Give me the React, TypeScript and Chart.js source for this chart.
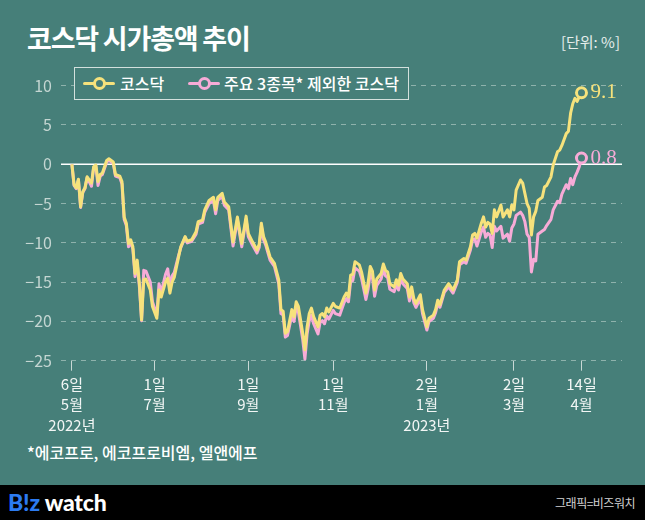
import React, { useEffect, useRef } from "react";
import { Chart, registerables } from "chart.js";

Chart.register(...registerables);

// trading-day index since 2022-05-06
const xIdx = [
  0, 1, 2, 3, 4, 5, 6, 7, 9, 10, 11, 12, 13, 14, 16, 17, 19, 20, 22, 23,
  24, 25, 26, 27, 28, 29, 30, 31, 32, 33, 34, 36, 37, 39, 40, 41, 43, 44, 45, 46,
  47, 49, 50, 52, 53, 55, 57, 58, 60, 61, 63, 65, 66, 67, 69, 70, 72, 74, 76, 78,
  80, 81, 83, 85, 86, 87, 88, 89, 91, 93, 95, 96, 97, 98, 99, 101, 102, 103, 104, 106,
  107, 108, 109, 110, 111, 113, 114, 115, 116, 117, 118, 120, 121, 123, 125, 126, 127, 128, 129, 130,
  132, 133, 135, 136, 137, 138, 139, 140, 142, 143, 144, 145, 146, 148, 149, 150, 151, 152, 154, 155,
  156, 157, 158, 160, 161, 163, 164, 166, 167, 168, 169, 171, 173, 175, 177, 178, 180, 181, 183, 184,
  185, 186, 188, 189, 190, 191, 192, 193, 194, 195, 197, 198, 200, 201, 202, 203, 204, 206, 207, 208,
  209, 210, 211, 212, 213, 214, 216, 217, 218, 220, 221, 223, 224, 225, 227, 228, 229, 230, 231, 232,
  233, 234,
];

const kosdaq = [
  0, -2.6, -3.0, -1.9, -5.4, -3.5, -3.0, -1.6, -2.4, -0.3, -0.1, -2.2, -1.3, -1.1, 0.5, 0.7, 0.3, -1.3, -1.5, -2.2,
  -6.7, -7.5, -10.1, -9.6, -10.5, -13.9, -12.2, -15.2, -19.8, -14.7, -14.6, -16.0, -18.1, -19.6, -16.0, -16.9, -15.0, -14.5, -16.4, -15.0,
  -14.4, -11.8, -10.5, -9.2, -9.8, -9.6, -8.6, -7.3, -7.1, -5.8, -4.6, -4.2, -5.8, -4.2, -3.7, -4.8, -5.4, -9.9, -6.7, -10.1,
  -6.6, -8.8, -9.9, -10.9, -10.2, -7.5, -9.2, -9.9, -11.8, -12.6, -14.7, -18.5, -18.7, -21.5, -21.3, -18.5, -19.4, -17.5, -18.1, -21.5,
  -23.6, -20.7, -19.0, -18.3, -19.4, -20.7, -19.2, -19.0, -19.4, -18.3, -18.8, -17.7, -18.1, -18.3, -16.9, -16.4, -16.9, -14.1, -14.0, -12.4,
  -12.8, -13.7, -16.4, -15.1, -13.0, -13.6, -16.0, -14.6, -13.9, -12.7, -13.5, -13.7, -15.2, -15.6, -14.7, -15.4, -13.9, -14.6, -15.2, -16.9,
  -15.6, -17.1, -17.7, -16.6, -18.5, -20.7, -19.6, -19.2, -18.5, -17.3, -17.9, -16.0, -15.2, -16.0, -14.7, -12.4, -12.0, -12.2, -10.5, -9.0,
  -8.8, -9.4, -7.5, -6.7, -8.0, -7.4, -7.6, -8.8, -5.8, -6.7, -5.2, -6.7, -5.8, -6.7, -5.2, -5.8, -3.3, -2.0, -2.4, -3.7,
  -5.0, -5.6, -9.0, -6.7, -6.0, -4.6, -4.2, -2.9, -2.7, -1.6, -0.1, 1.6, 1.8, 2.4, 3.9, 4.2, 6.5, 7.7, 8.4, 8.0,
  8.6, 9.1,
];

const exTop3 = [
  0, -2.7, -3.1, -2.0, -5.5, -3.6, -3.1, -1.7, -2.8, -0.4, -0.2, -2.7, -1.5, -1.3, 0.3, 0.5, 0.1, -1.5, -1.7, -2.5,
  -7.0, -7.8, -10.5, -9.9, -10.8, -14.3, -12.6, -15.6, -19.9, -13.5, -13.6, -15.0, -17.5, -19.2, -15.2, -16.3, -14.0, -13.3, -15.5, -14.2,
  -13.8, -11.6, -10.6, -9.3, -10.0, -9.8, -8.9, -7.6, -7.4, -6.1, -5.0, -4.6, -6.3, -4.6, -4.1, -5.2, -5.8, -10.4, -7.1, -10.5,
  -7.0, -9.2, -10.3, -11.3, -10.6, -7.9, -9.6, -10.3, -12.2, -13.0, -15.2, -19.0, -19.2, -22.0, -21.8, -19.2, -20.0, -18.2, -18.8, -22.3,
  -24.8, -21.6, -19.9, -19.2, -20.3, -21.6, -20.1, -19.9, -20.3, -19.3, -19.7, -18.6, -19.0, -19.2, -17.6, -17.1, -17.5, -14.9, -14.8, -13.2,
  -13.6, -14.5, -17.2, -15.9, -13.9, -14.4, -16.8, -15.4, -14.6, -13.4, -14.2, -14.4, -15.9, -16.2, -15.3, -16.0, -14.5, -15.2, -15.8, -17.4,
  -16.1, -17.6, -18.2, -17.1, -19.0, -21.1, -20.0, -19.6, -18.9, -17.7, -18.2, -16.3, -15.6, -16.4, -15.0, -12.8, -12.4, -12.6, -10.9, -9.6,
  -9.5, -10.4, -8.6, -8.0, -9.3, -8.8, -9.0, -10.6, -7.9, -8.5, -7.9, -9.4, -8.9, -9.8, -8.1, -7.6, -6.5, -6.1, -6.5, -7.3,
  -8.9, -9.3, -13.7, -12.1, -12.3, -8.9, -8.5, -8.3, -7.8, -7.0, -5.8, -4.7, -4.9, -3.8, -2.6, -3.1, -1.8, -2.6, -1.6, -1.0,
  -0.3, 0.8,
];

const tickValues = [0, 38, 81, 120, 163, 203, 234];
const tickLabels = [
  ["6일", "5월", "2022년"],
  ["1일", "7월"],
  ["1일", "9월"],
  ["1일", "11월"],
  ["2일", "1월", "2023년"],
  ["2일", "3월"],
  ["14일", "4월"],
];

const seriesNames = ["코스닥", "주요 3종목* 제외한 코스닥"];
const endLabels = ["9.1", "0.8"];

const BG = "#467f79";
const YELLOW = "#f6e27c";
const PINK = "#f7abd7";
const FONT = "'Noto Sans CJK KR', 'Noto Sans', sans-serif";

const zeroLinePlugin = {
  id: "zeroLine",
  beforeDatasetsDraw(chart: any) {
    const { ctx, chartArea, scales } = chart;
    const y = scales.y.getPixelForValue(0);
    ctx.save();
    ctx.strokeStyle = "#ffffff";
    ctx.lineWidth = 1.5;
    ctx.beginPath();
    ctx.moveTo(chartArea.left, y);
    ctx.lineTo(chartArea.right, y);
    ctx.stroke();
    ctx.restore();
  },
};

const endLabelPlugin = {
  id: "endLabels",
  afterDatasetsDraw(chart: any) {
    const { ctx } = chart;
    ctx.save();
    ctx.font = "21px 'Liberation Serif', serif";
    ctx.textBaseline = "middle";
    ctx.textAlign = "left";
    chart.data.datasets.forEach((ds: any, i: number) => {
      const meta = chart.getDatasetMeta(i);
      const pt = meta.data[meta.data.length - 1];
      ctx.fillStyle = ds.borderColor;
      ctx.fillText(endLabels[i], pt.x + 9, pt.y);
    });
    ctx.restore();
  },
};

function LegendMarker({ color }: { color: string }) {
  return (
    <span style={{ position: "relative", display: "inline-block", width: 32, height: 14 }}>
      <span style={{ position: "absolute", left: 0, top: 5.5, width: 32, height: 3, background: color, borderRadius: 2 }} />
      <span
        style={{
          position: "absolute",
          left: 9.5,
          top: 0.5,
          width: 7,
          height: 7,
          border: `3px solid ${color}`,
          borderRadius: "50%",
          background: BG,
        }}
      />
    </span>
  );
}

export default function App() {
  const canvasRef = useRef<HTMLCanvasElement | null>(null);

  useEffect(() => {
    document.body.style.margin = "0";
    const canvas = canvasRef.current;
    if (!canvas) return;
    const mk = (vals: number[]) => xIdx.map((x, i) => ({ x, y: vals[i] }));
    const chart = new Chart(canvas, {
      type: "line",
      data: {
        datasets: [
          { label: seriesNames[0], data: mk(kosdaq), borderColor: YELLOW },
          { label: seriesNames[1], data: mk(exTop3), borderColor: PINK },
        ].map((d) => ({
          ...d,
          borderWidth: 3,
          tension: 0,
          borderJoinStyle: "round" as const,
          pointRadius: (c: any) => (c.dataIndex === xIdx.length - 1 ? 5 : 0),
          pointHoverRadius: 0,
          pointBorderWidth: 3,
          pointBorderColor: d.borderColor,
          pointBackgroundColor: BG,
        })),
      },
      plugins: [zeroLinePlugin, endLabelPlugin],
      options: {
        animation: false,
        responsive: false,
        events: [],
        layout: { padding: { top: 15.7, right: 23, left: 0, bottom: 0 } },
        plugins: { legend: { display: false }, tooltip: { enabled: false } },
        scales: {
          x: {
            type: "linear",
            min: -5,
            max: 252.6,
            afterFit: (s: any) => {
              s.height = 79.3;
            },
            afterBuildTicks: (s: any) => {
              s.ticks = tickValues.map((v) => ({ value: v }));
            },
            grid: {
              drawOnChartArea: false,
              drawTicks: true,
              tickLength: 10,
              color: "#c9d8d5",
              lineWidth: 1,
            },
            border: { display: false },
            ticks: {
              autoSkip: false,
              maxRotation: 0,
              padding: 3,
              color: "#f2f6f5",
              font: { family: FONT, size: 15, lineHeight: 1.38 },
              callback: (v: any) => {
                const k = tickValues.indexOf(Number(v));
                return k >= 0 ? tickLabels[k] : "";
              },
            },
          },
          y: {
            min: -25,
            max: 10,
            afterFit: (s: any) => {
              s.width = 61;
              s.paddingTop = 0;
              s.paddingBottom = 0;
            },
            ticks: {
              stepSize: 5,
              padding: 9,
              color: "#c4d6d2",
              font: { family: FONT, size: 16 },
              callback: (v: any) => String(v).replace("-", "−"),
            },
            grid: {
              drawTicks: false,
              color: (c: any) => (c.tick && c.tick.value === 0 ? "rgba(0,0,0,0)" : "rgba(190,212,207,0.6)"),
              lineWidth: 1,
            },
            border: { display: false, dash: [5, 5] },
          },
        },
      },
    } as any);
    return () => chart.destroy();
  }, []);

  return (
    <div
      style={{
        position: "fixed",
        left: 0,
        top: 0,
        width: 645,
        height: 520,
        background: BG,
        overflow: "hidden",
        fontFamily: FONT,
      }}
    >
      <div
        style={{
          position: "absolute",
          left: 27,
          top: 21,
          fontSize: 27,
          fontWeight: 700,
          color: "#ffffff",
          letterSpacing: -1.2,
          lineHeight: "34px",
          whiteSpace: "nowrap",
        }}
      >
        코스닥 시가총액 추이
      </div>
      <div
        style={{
          position: "absolute",
          right: 25,
          top: 32,
          fontSize: 15,
          color: "#e6eeec",
          lineHeight: "20px",
          whiteSpace: "nowrap",
        }}
      >
        [단위: %]
      </div>

      <canvas
        ref={canvasRef}
        width={645}
        height={370}
        style={{ position: "absolute", left: 0, top: 70, width: 645, height: 370 }}
      />

      <div
        style={{
          position: "absolute",
          left: 74,
          top: 67,
          width: 335,
          height: 33,
          boxSizing: "border-box",
          border: "1.5px solid #d3e0dd",
          background: BG,
        }}
      >
        <div style={{ position: "absolute", left: 8, top: 8, display: "flex", alignItems: "center" }}>
          <LegendMarker color={YELLOW} />
        </div>
        <div
          style={{
            position: "absolute",
            left: 45,
            top: 4,
            fontSize: 16,
            fontWeight: 500,
            color: "#ffffff",
            lineHeight: "22px",
            whiteSpace: "nowrap",
          }}
        >
          {seriesNames[0]}
        </div>
        <div style={{ position: "absolute", left: 113, top: 8, display: "flex", alignItems: "center" }}>
          <LegendMarker color={PINK} />
        </div>
        <div
          style={{
            position: "absolute",
            left: 149,
            top: 4,
            fontSize: 16,
            fontWeight: 500,
            color: "#ffffff",
            lineHeight: "22px",
            whiteSpace: "nowrap",
          }}
        >
          {seriesNames[1]}
        </div>
      </div>

      <div
        style={{
          position: "absolute",
          left: 27,
          top: 441,
          fontSize: 16,
          fontWeight: 500,
          color: "#ffffff",
          lineHeight: "22px",
          whiteSpace: "nowrap",
        }}
      >
        *에코프로, 에코프로비엠, 엘앤에프
      </div>

      <div style={{ position: "absolute", left: 0, top: 485, width: 645, height: 35, background: "#000000" }}>
        <div
          style={{
            position: "absolute",
            left: 8,
            top: 3,
            fontFamily: "Lato, 'Open Sans', sans-serif",
            fontWeight: 900,
            fontSize: 23,
            lineHeight: "28px",
            letterSpacing: -0.2,
            whiteSpace: "nowrap",
          }}
        >
          <span style={{ color: "#2c7bf0" }}>B!z</span>
          <span style={{ color: "#ffffff" }}> watch</span>
        </div>
        <div
          style={{
            position: "absolute",
            right: 10,
            top: 9,
            fontSize: 12,
            color: "#d2d2d2",
            lineHeight: "18px",
            letterSpacing: -0.5,
            whiteSpace: "nowrap",
          }}
        >
          그래픽=비즈워치
        </div>
      </div>
    </div>
  );
}
